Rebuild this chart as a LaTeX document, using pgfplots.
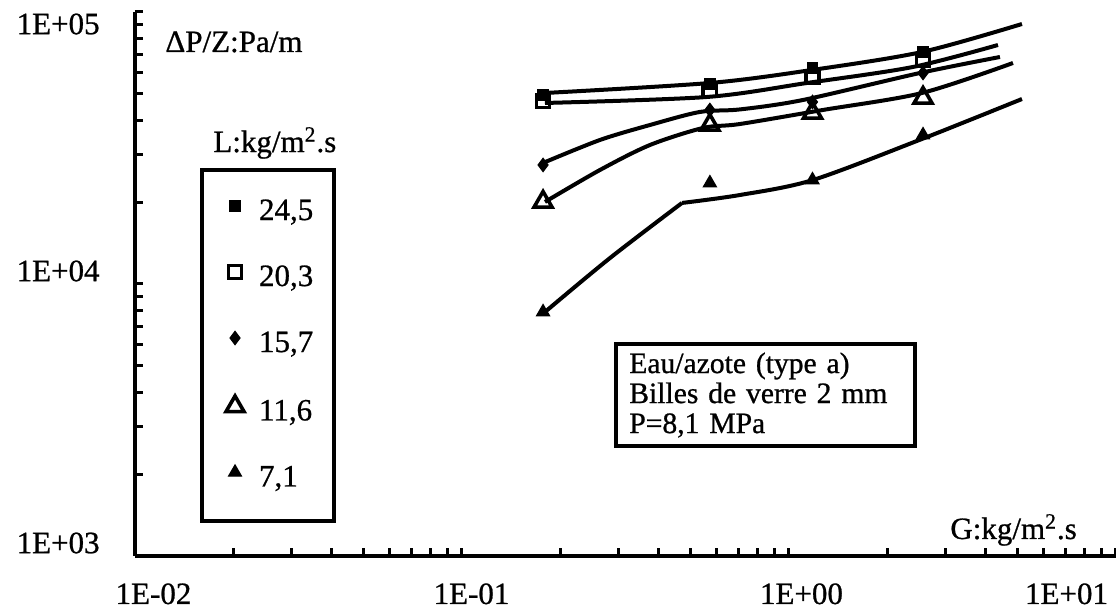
\documentclass[border=0pt]{standalone}
\usepackage{fontspec}
\setmainfont{Liberation Serif}[FakeBold=0.8]
\usepackage{pgfplots}
\pgfplotsset{compat=1.18}
\begin{document}
\fontsize{15.5}{18}\selectfont
\begin{tikzpicture}
\useasboundingbox (-67.5pt,-29.5pt) rectangle (490.5pt,278pt);
\begin{axis}[
  at={(0pt,0pt)}, anchor=south west,
  scale only axis, width=490.5pt, height=272pt,
  xmode=log, ymode=log,
  xmin=0.01, xmax=10, ymin=1000, ymax=100000,
  axis x line*=bottom, axis y line*=left,
  axis line style={line width=2.2pt,-},
  tick align=inside,
  major tick length=4pt, minor tick length=4pt,
  tick style={black, line width=1.5pt},
  xtick={0.01,0.1,1,10},
  xticklabels={\hspace*{18.5pt}1E-02, \hspace*{9.5pt}1E-01, \hspace*{12.5pt}1E+00, \makebox[0pt][r]{1E+01\hspace*{4pt}}},
  minor xtick={0.02,0.03,0.04,0.05,0.06,0.07,0.08,0.09,0.2,0.3,0.4,0.5,0.6,0.7,0.8,0.9,2,3,4,5,6,7,8,9},
  ytick={1000,10000},
  yticklabels={1E+03,1E+04},
  extra y ticks={100000}, extra y tick labels={1E+05},
  extra y tick style={yticklabel style={yshift=-12.5pt}},
  minor ytick={2000,3000,4000,5000,6000,7000,8000,9000,20000,30000,40000,50000,60000,70000,80000,90000},
  xticklabel style={anchor=north, inner sep=0pt, yshift=-13.5pt, font=\fontsize{15.5}{18}\selectfont},
  yticklabel style={anchor=east, inner sep=0pt, xshift=-17.5pt, yshift=6.5pt, font=\fontsize{15.5}{18}\selectfont},
  legend cell align=left,
  legend style={at={(0.0663,0.7132)}, anchor=north west, draw=black, line width=2pt,
    inner xsep=10.5pt, inner ysep=14pt, row sep=18.5pt, column sep=6pt,
    nodes={inner sep=0pt, text height=11pt, text depth=3.5pt, font=\fontsize{15.5}{18}\selectfont}},
  legend image code/.code={\path (0pt,0pt) (10pt,0pt); \draw[mark repeat=1,mark phase=1,#1] plot coordinates {(5pt,3.25pt)};},
]
% fitted curves (hand drawn in the original)
\addplot[forget plot, black, line width=2pt, smooth, no markers] coordinates {(0.1794,50370) (0.5733,54830) (1.176,61210) (2.551,71280) (5.158,90330)};
\addplot[forget plot, black, line width=2pt, smooth, no markers] coordinates {(0.1794,46290) (0.5613,48700) (1.135,54830) (2.394,62790) (4.356,75630)};
\addplot[forget plot, black, line width=2pt, smooth, no markers] coordinates {(0.1769,27860) (0.2642,33840) (0.3757,38420) (0.534,42900) (0.7081,43830) (1.104,47480) (2.515,59670) (4.418,68330)};
\addplot[forget plot, black, line width=2pt, smooth, no markers] coordinates {(0.1794,20030) (0.2642,26250) (0.3757,32430) (0.5458,37460) (0.7081,38750) (1.270,43630) (2.551,50370) (4.842,64940)};
\addplot[forget plot, black, line width=2pt, smooth, no markers] coordinates {(0.1794,7891) (0.2836,12460) (0.4708,19860)};
\addplot[forget plot, black, line width=2pt, smooth, no markers] coordinates {(0.4708,19860) (0.7081,21240) (1.184,24120) (2.551,34130) (5.158,47870)};
% measured points
\addplot[black, only marks, mark=square*, mark size=2.7pt, mark options={fill=black, draw=black, line width=0.5pt}] coordinates {(0.177,49530) (0.573,54370) (1.18,62250) (2.57,71280)};
\addlegendentry{24,5}
\addplot[black, only marks, mark=square, mark size=3.3pt, mark options={draw=black, line width=1.8pt}] coordinates {(0.177,47080) (0.573,51670) (1.18,57680) (2.57,66610)};
\addlegendentry{20,3}
\addplot[black, only marks, mark=diamond*, mark size=3.3pt, mark options={fill=black, draw=black, line width=0.6pt}] coordinates {(0.177,27390) (0.573,43630) (1.18,46680) (2.57,59670)};
\addlegendentry{15,7}
\addplot[black, only marks, mark=triangle, mark size=5.2pt, mark options={draw=black, line width=1.8pt}] coordinates {(0.177,20030) (0.573,38420) (1.18,42540) (2.57,48290)};
\addlegendentry{11,6}
\addplot[black, only marks, mark=triangle*, mark size=3.7pt, mark options={fill=black, draw=black, line width=0.6pt}] coordinates {(0.177,7891) (0.573,23510) (1.18,24120) (2.57,35300)};
\addlegendentry{7,1}
\node[anchor=base west, inner sep=0pt] at (rel axis cs:0.0306,0.9265) {ΔP/Z:Pa/m};
\node[anchor=base west, inner sep=0pt] at (rel axis cs:0.0795,0.7426) {L:kg/m\textsuperscript{2}.s};
\node[anchor=base west, inner sep=0pt] at (rel axis cs:0.8308,0.03125) {G:kg/m\textsuperscript{2}.s};
\node[anchor=south west, draw=black, line width=1.8pt, align=left, text width=136pt, inner xsep=6.75pt, inner ysep=4.3pt, font=\fontsize{14.8}{15}\selectfont] at (rel axis cs:0.4883,0.1985) {\mbox{Eau/azote (type a)}\\\mbox{Billes de verre 2 mm}\\\mbox{P=8,1 MPa}};
\end{axis}
\end{tikzpicture}
\end{document}
